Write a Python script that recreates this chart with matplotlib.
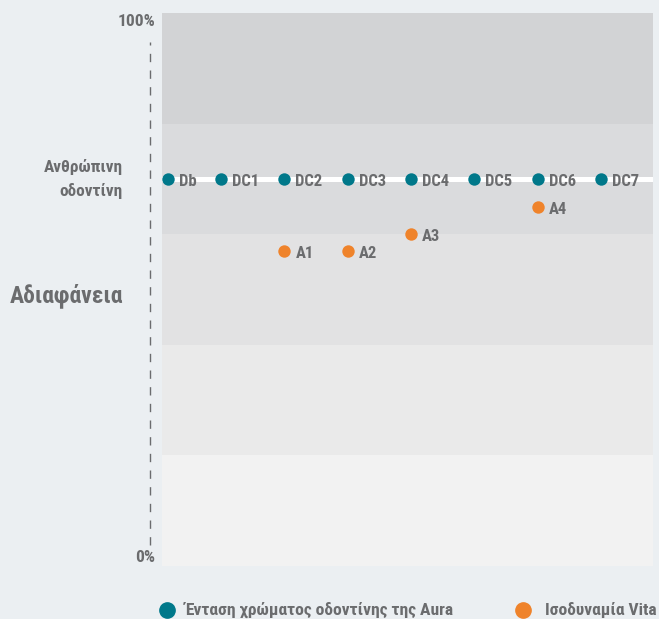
import matplotlib
matplotlib.use('Agg')
import matplotlib.pyplot as plt
from matplotlib.lines import Line2D

plt.rcParams['font.family'] = ['Roboto Condensed', 'Roboto', 'DejaVu Sans']

# datos
aura_labels = ['Db', 'DC1', 'DC2', 'DC3', 'DC4', 'DC5', 'DC6', 'DC7']
aura_x = [0.16, 1, 2, 3, 4, 5, 6, 7]
aura_y = [70, 70, 70, 70, 70, 70, 70, 70]

vita_labels = ['A1', 'A2', 'A3', 'A4']
vita_x = [2, 3, 4, 6]
vita_y = [57, 57, 60, 65]

dentin_level = 70
bands = [0, 20, 40, 60, 80, 100]
band_colors = ['#f2f2f2', '#eaeaea', '#e2e2e3', '#dadbdd', '#d2d3d5']

teal = '#00788a'
orange = '#ef832b'
gray = '#6b6c6e'
bg = '#ebeff2'

fig = plt.figure(figsize=(6.59, 6.19), dpi=100)
fig.patch.set_facecolor(bg)
ax = fig.add_axes([0.2458, 0.0856, 0.745, 0.8934])

for i in range(5):
    ax.axhspan(bands[i], bands[i + 1], color=band_colors[i], lw=0, zorder=0)

ax.axhline(dentin_level, color='white', lw=3.6, zorder=1)

ax.scatter(aura_x, aura_y, s=80, color=teal, zorder=3, lw=0)
for x, y, t in zip(aura_x, aura_y, aura_labels):
    ax.annotate(t, (x, y), xytext=(8, -2), textcoords='offset points',
                va='center', ha='left', fontsize=12, fontweight='bold', color=gray)

ax.scatter(vita_x, vita_y, s=80, color=orange, zorder=3, lw=0)
for x, y, t in zip(vita_x, vita_y, vita_labels):
    ax.annotate(t, (x, y), xytext=(8, -2), textcoords='offset points',
                va='center', ha='left', fontsize=12, fontweight='bold', color=gray)

ax.set_xlim(0.068, 7.82)
ax.set_ylim(0, 100)
ax.axis('off')

# eje izquierdo
fig.add_artist(Line2D([150 / 659, 150 / 659], [1 - 545 / 619, 1 - 42 / 619],
                      color=gray, lw=1, ls=(0, (6, 6))))
fig.text(155 / 659, 1 - 22 / 619, '100%', ha='right', va='center',
         fontsize=12.5, fontweight='bold', color=gray)
fig.text(155 / 659, 1 - 558 / 619, '0%', ha='right', va='center',
         fontsize=12.5, fontweight='bold', color=gray)
fig.text(123 / 659, 1 - 179 / 619, 'Ανθρώπινη\nοδοντίνη', ha='right', va='center',
         fontsize=12.4, fontweight='bold', color=gray, linespacing=1.55)
fig.text(123 / 659, 1 - 296 / 619, 'Αδιαφάνεια', ha='right', va='center',
         fontsize=17, fontweight='bold', color=gray)

# leyenda
fig.add_artist(Line2D([167 / 659], [1 - 610 / 619], marker='o', ms=11,
                      color=teal, lw=0))
fig.text(185 / 659, 1 - 610 / 619, 'Ένταση χρώματος οδοντίνης της Aura',
         ha='left', va='center', fontsize=12.6, fontweight='bold', color=gray)
fig.add_artist(Line2D([523 / 659], [1 - 610 / 619], marker='o', ms=11,
                      color=orange, lw=0))
fig.text(545 / 659, 1 - 610 / 619, 'Ισοδυναμία Vita',
         ha='left', va='center', fontsize=12.6, fontweight='bold', color=gray)

plt.savefig('out.png', dpi=100, facecolor=bg)
